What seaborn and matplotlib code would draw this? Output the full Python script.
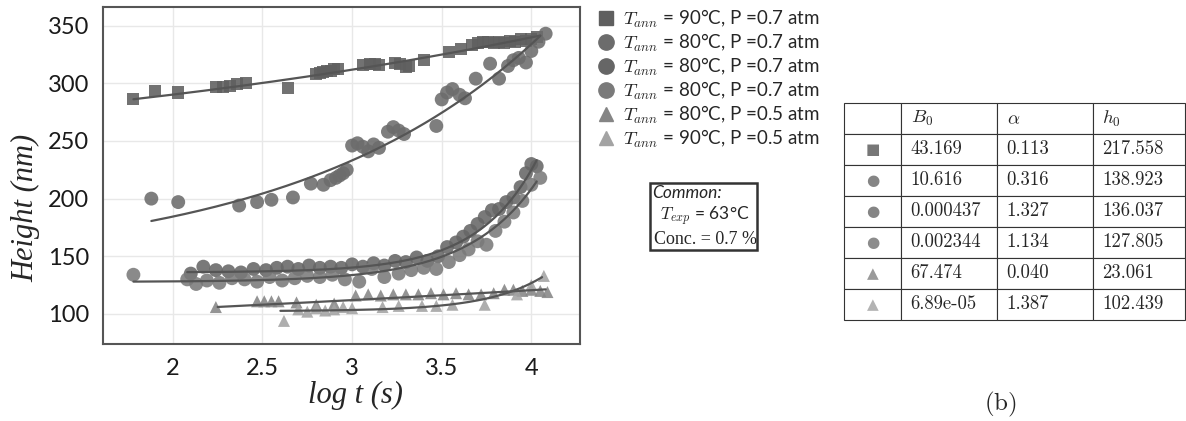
import numpy as np
import pandas as pd
import matplotlib
matplotlib.use('Agg')
import matplotlib.pyplot as plt
import seaborn as sns
from matplotlib.lines import Line2D
from matplotlib.patches import Rectangle

# ---- data ----
labels = [
    r'$T_{ann}$ = 90°C, P =0.7 atm',
    r'$T_{ann}$ = 80°C, P =0.7 atm',
    r'$T_{ann}$ = 80°C, P =0.7 atm',
    r'$T_{ann}$ = 80°C, P =0.7 atm',
    r'$T_{ann}$ = 80°C, P =0.5 atm',
    r'$T_{ann}$ = 90°C, P =0.5 atm',
]

x1 = [1.78, 1.90, 2.03, 2.24, 2.28, 2.32, 2.36, 2.41, 2.64, 2.80, 2.82, 2.84, 2.86, 2.88, 2.90, 2.92,
      3.06, 3.10, 3.13, 3.15, 3.24, 3.27, 3.30, 3.32, 3.40, 3.54, 3.61, 3.67, 3.70, 3.73, 3.76, 3.79,
      3.82, 3.85, 3.88, 3.91, 3.94, 3.97, 4.00, 4.03]
y1 = [286, 293, 292, 297, 297, 298, 299, 300, 296, 308, 309, 310, 311, 311, 312, 312,
      316, 317, 317, 316, 318, 317, 314, 315, 320, 327, 330, 333, 335, 336, 336, 335,
      336, 335, 337, 336, 338, 337, 338, 340]

x2 = [1.88, 2.03, 2.37, 2.47, 2.55, 2.67, 2.77, 2.84, 2.88, 2.91, 2.93, 2.95, 2.97, 3.00, 3.03, 3.06,
      3.09, 3.12, 3.15, 3.20, 3.23, 3.26, 3.29, 3.47, 3.50, 3.53, 3.56, 3.60, 3.63, 3.69, 3.77, 3.82,
      3.87, 3.90, 3.93, 3.97, 4.00, 4.04, 4.08]
y2 = [200, 197, 194, 197, 199, 201, 213, 212, 216, 218, 220, 222, 225, 246, 248, 245,
      241, 247, 244, 258, 262, 259, 256, 263, 286, 292, 295, 290, 287, 304, 317, 304,
      315, 320, 322, 318, 328, 336, 343]

x3 = [2.10, 2.17, 2.24, 2.31, 2.38, 2.45, 2.52, 2.58, 2.64, 2.70, 2.76, 2.82, 2.88, 2.94, 3.00, 3.06,
      3.12, 3.18, 3.24, 3.30, 3.36, 3.42, 3.48, 3.53, 3.58, 3.62, 3.66, 3.70, 3.74, 3.78, 3.82, 3.86,
      3.90, 3.94, 3.97, 4.00, 4.03]
y3 = [135, 141, 138, 137, 136, 139, 138, 140, 141, 139, 142, 140, 141, 140, 143, 141,
      144, 142, 146, 145, 149, 146, 150, 158, 162, 167, 172, 178, 184, 190, 191, 197,
      201, 210, 222, 230, 228]

x4 = [1.78, 2.08, 2.13, 2.19, 2.26, 2.33, 2.40, 2.47, 2.54, 2.61, 2.68, 2.75, 2.82, 2.89, 2.96, 3.04,
      3.11, 3.18, 3.26, 3.33, 3.40, 3.47, 3.54, 3.60, 3.65, 3.70, 3.75, 3.80, 3.85, 3.90, 3.95, 4.00, 4.05]
y4 = [134, 130, 126, 129, 127, 131, 130, 128, 132, 129, 131, 133, 132, 134, 130, 128,
      139, 132, 135, 138, 140, 139, 145, 151, 156, 163, 160, 172, 180, 188, 198, 212, 218]

x5 = [2.24, 2.47, 2.51, 2.55, 2.59, 2.69, 2.80, 2.90, 3.02, 3.09, 3.16, 3.23, 3.30, 3.37, 3.44, 3.51,
      3.58, 3.65, 3.72, 3.79, 3.85, 3.90, 3.95, 4.00, 4.05, 4.09]
y5 = [106, 111, 111, 111, 111, 110, 108, 109, 116, 117, 116, 117, 117, 117, 118, 117,
      118, 117, 117, 118, 121, 121, 120, 121, 120, 119]

x6 = [2.62, 2.70, 2.75, 2.80, 2.85, 2.90, 2.95, 3.00, 3.17, 3.26, 3.39, 3.47, 3.56, 3.74, 3.92, 4.00, 4.07]
y6 = [94, 104, 102, 105, 103, 104, 106, 105, 106, 107, 107, 107, 108, 108, 117, 125, 133]

# fit parameters (table): h = h0 + B0 * t**alpha, t = 10**logt
B0 = [43.169, 10.616, 0.000437, 0.002344, 67.474, 6.89e-05]
alpha = [0.113, 0.316, 1.327, 1.134, 0.040, 1.387]
h0 = [217.558, 138.923, 136.037, 127.805, 23.061, 102.439]
B0_txt = ['43.169', '10.616', '0.000437', '0.002344', '67.474', '6.89e-05']
alpha_txt = ['0.113', '0.316', '1.327', '1.134', '0.040', '1.387']
h0_txt = ['217.558', '138.923', '136.037', '127.805', '23.061', '102.439']
fit_start = [1.78, 1.88, 2.08, 1.78, 2.25, 2.60]
fit_end = [4.05, 4.05, 4.03, 4.03, 4.08, 4.06]

xs = [x1, x2, x3, x4, x5, x6]
ys = [y1, y2, y3, y4, y5, y6]
markers = ['s', 'o', 'o', 'o', '^', '^']
colors = ['#5f5f5f', '#6c6c6c', '#666666', '#7a7a7a', '#858585', '#a3a3a3']
sizes = [75, 100, 100, 100, 75, 75]
tab_symbols = ['■', '●', '●', '●', '▲', '▲']
tab_colors = ['#777777', '#858585', '#858585', '#8c8c8c', '#9a9a9a', '#b3b3b3']

frames = []
for i in range(6):
    frames.append(pd.DataFrame({'logt': xs[i], 'height': ys[i], 'series': i}))
df = pd.concat(frames, ignore_index=True)

sns.set_theme(style='whitegrid')
plt.rcParams['font.family'] = ['Lato', 'DejaVu Sans']
plt.rcParams['mathtext.fontset'] = 'cm'

fig = plt.figure(figsize=(11.86, 4.21), dpi=100)
ax = fig.add_axes([0.0868, 0.183, 0.402, 0.800])

for i in range(6):
    sub = df[df['series'] == i]
    sns.scatterplot(data=sub, x='logt', y='height', marker=markers[i], color=colors[i],
                    s=sizes[i], edgecolor='none', alpha=0.88, ax=ax, zorder=3)
for i in range(6):
    xf = np.linspace(fit_start[i], fit_end[i], 200)
    yf = h0[i] + B0[i] * (10 ** xf) ** alpha[i]
    sns.lineplot(x=xf, y=yf, color='#555555', linewidth=1.6, ax=ax, zorder=4)

ax.set_xlim(1.61, 4.27)
ax.set_ylim(74, 366)
ax.set_xticks([2, 2.5, 3, 3.5, 4])
ax.set_xticklabels(['2', '2.5', '3', '3.5', '4'])
ax.set_yticks([100, 150, 200, 250, 300, 350])
ax.tick_params(length=0, labelsize=17, colors='#1a1a1a', pad=10)
ax.grid(color='#e8e8e8', linewidth=1.0)
for sp in ax.spines.values():
    sp.set_color('#555555')
    sp.set_linewidth(1.5)
ax.set_xlabel('log t (s)', fontsize=22, family='Liberation Serif', style='italic')
ax.set_ylabel('Height (nm)', fontsize=22, family='Liberation Serif', style='italic')
ax.xaxis.set_label_coords(0.53, -0.11)
ax.yaxis.set_label_coords(-0.132, 0.405)

# legend
handles = [Line2D([], [], linestyle='none', marker=markers[i], color=colors[i],
                  markersize=11 if markers[i] == 'o' else 10) for i in range(6)]
fig.legend(handles, labels, loc='upper left', bbox_to_anchor=(0.502, 0.982), frameon=False,
           fontsize=13.5, handletextpad=0.4, labelspacing=0.1, borderaxespad=0, borderpad=0,
           handlelength=1.1)

# "Common" box
fig.patches.append(Rectangle((650 / 1186, 1 - 250 / 421), 107 / 1186, 67 / 421,
                             transform=fig.transFigure, fill=False, edgecolor='#333333', linewidth=1.8))
fig.text(652 / 1186, 1 - 193 / 421, 'Common:', fontsize=12.5, style='italic', va='center', ha='left')
fig.text(705 / 1186, 1 - 216 / 421, r'$T_{exp}$ = 63°C', fontsize=12.5, va='center', ha='center')
fig.text(705 / 1186, 1 - 239 / 421, 'Conc. = 0.7 %', fontsize=13, va='center', ha='center',
         family='Liberation Serif')

# table
tab_ax = fig.add_axes([844 / 1186, 1 - 320 / 421, 341 / 1186, 217 / 421])
tab_ax.axis('off')
cell_text = [['', B0_txt[i], alpha_txt[i], h0_txt[i]] for i in range(6)]
tbl = tab_ax.table(cellText=cell_text, colLabels=['', r'$B_0$', r'$\alpha$', r'$h_0$'],
                   bbox=[0, 0, 1, 1], colWidths=[57, 96, 96, 92], cellLoc='left', colLoc='left')
tbl.auto_set_font_size(False)
for (r, c), cell in tbl.get_celld().items():
    cell.set_edgecolor('#333333')
    cell.set_linewidth(0.8)
    cell.set_facecolor('white')
    t = cell.get_text()
    t.set_fontsize(13.5)
    if r > 0 and c > 0:
        t.set_fontfamily('cmr10')
    if r > 0 and c == 0:
        t.set_text(tab_symbols[r - 1])
        t.set_color(tab_colors[r - 1])
        t.set_fontfamily('DejaVu Sans')
        t.set_fontsize(11)
        t.set_horizontalalignment('center')
        cell._loc = 'center'

fig.text(1000 / 1186, 1 - 404 / 421, r'$\mathrm{(b)}$', fontsize=18, ha='center', va='center')

fig.savefig('out.png', dpi=100)
